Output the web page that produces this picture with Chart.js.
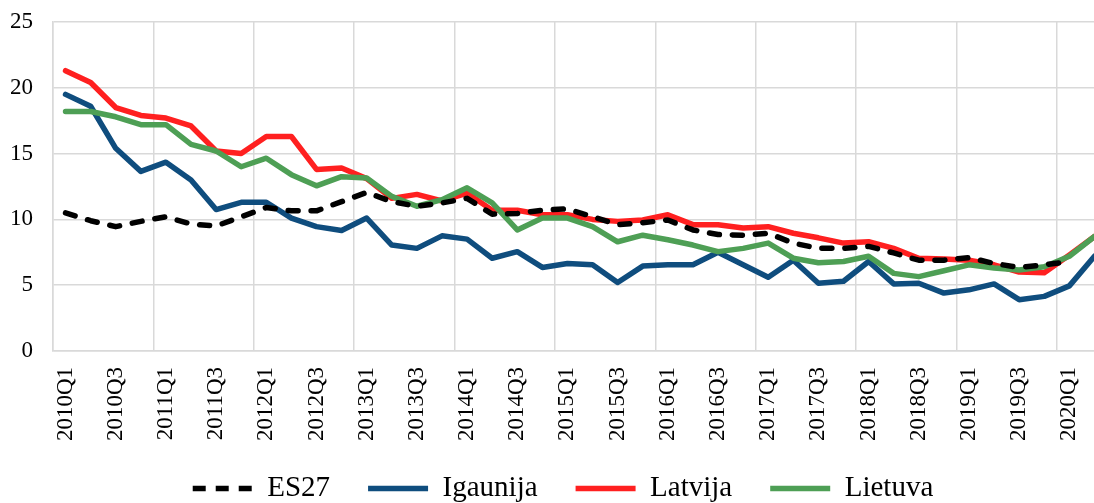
<!DOCTYPE html>
<html>
<head>
<meta charset="utf-8">
<script src="https://cdn.jsdelivr.net/npm/chart.js@4"></script>
<style>
html, body { margin: 0; padding: 0; background: #fff; overflow: hidden; }
#wrap { position: relative; width: 1107px; height: 503px; }
</style>
</head>
<body>
<div id="wrap"><canvas id="chart"></canvas></div>
<script>
// ceturkšņi
var quarters = ['2010Q1', '2010Q2', '2010Q3', '2010Q4', '2011Q1', '2011Q2', '2011Q3', '2011Q4',
    '2012Q1', '2012Q2', '2012Q3', '2012Q4', '2013Q1', '2013Q2', '2013Q3', '2013Q4',
    '2014Q1', '2014Q2', '2014Q3', '2014Q4', '2015Q1', '2015Q2', '2015Q3', '2015Q4',
    '2016Q1', '2016Q2', '2016Q3', '2016Q4', '2017Q1', '2017Q2', '2017Q3', '2017Q4',
    '2018Q1', '2018Q2', '2018Q3', '2018Q4', '2019Q1', '2019Q2', '2019Q3', '2019Q4',
    '2020Q1', '2020Q2'];

var es27 = [10.5, 9.9, 9.45, 9.85, 10.2, 9.65, 9.5, 10.2, 10.9, 10.65, 10.65, 11.35,
    12.05, 11.35, 11.0, 11.25, 11.6, 10.4, 10.45, 10.7, 10.8, 10.2, 9.6, 9.75,
    9.95, 9.2, 8.85, 8.8, 8.95, 8.2, 7.8, 7.8, 7.95, 7.45, 6.9, 6.9,
    7.1, 6.65, 6.35, 6.55, 6.8, null];
var igaunija = [19.5, 18.6, 15.4, 13.65, 14.35, 13.0, 10.75, 11.3, 11.3, 10.1, 9.45, 9.15,
    10.1, 8.05, 7.8, 8.75, 8.5, 7.05, 7.55, 6.35, 6.65, 6.55, 5.2, 6.45,
    6.55, 6.55, 7.5, 6.55, 5.6, 6.9, 5.15, 5.3, 6.8, 5.1, 5.15, 4.4,
    4.65, 5.1, 3.9, 4.15, 4.95, 7.2];
var latvija = [21.3, 20.4, 18.5, 17.9, 17.7, 17.1, 15.2, 15.0, 16.3, 16.3, 13.8, 13.9,
    13.1, 11.6, 11.9, 11.4, 12.0, 10.7, 10.7, 10.35, 10.35, 10.0, 9.85, 9.95,
    10.35, 9.6, 9.6, 9.35, 9.45, 8.95, 8.6, 8.2, 8.3, 7.8, 7.05, 7.0,
    6.9, 6.55, 6.0, 5.95, 7.3, 8.7];
var lietuva = [18.2, 18.2, 17.8, 17.2, 17.2, 15.7, 15.2, 14.0, 14.65, 13.4, 12.55, 13.25,
    13.15, 11.75, 11.0, 11.5, 12.4, 11.25, 9.2, 10.1, 10.1, 9.45, 8.3, 8.8,
    8.45, 8.05, 7.55, 7.8, 8.2, 7.05, 6.7, 6.8, 7.2, 5.9, 5.65, 6.1,
    6.55, 6.3, 6.15, 6.4, 7.2, 8.7];

var yTicks = [0, 5, 10, 15, 20, 25];

var serif = '"Liberation Serif", "Times New Roman", serif';
var gridGray = '#d9d9d9';

// legendu pārbīda uz vietu, kur tā ir oriģinālā
var legendShift = {
    id: 'legendShift',
    afterLayout: function(chart) {
        var lg = chart.legend;
        var dx = 563 - (lg.left + lg.right) / 2;
        lg.left += dx;
        lg.right += dx;
        lg.top = 436;
        lg.bottom = chart.height;
        lg.height = lg.bottom - lg.top;
    }
};

function line(label, data, color, order) {
    return {
        label: label,
        data: data,
        borderColor: color,
        backgroundColor: color,
        borderWidth: 5.5,
        pointRadius: 0,
        pointHoverRadius: 0,
        tension: 0,
        borderJoinStyle: 'round',
        borderCapStyle: 'round',
        fill: false,
        order: order
    };
}

var ds0 = line('ES27', es27, '#000000', 0);
ds0.borderDash = [10, 13];
var ctx = document.getElementById('chart').getContext('2d');
var chart = new Chart(ctx, {
    type: 'line',
    data: {
        labels: quarters,
        datasets: [
            ds0,
            line('Igaunija', igaunija, '#0f4d7e', 3),
            line('Latvija', latvija, '#ff2020', 2),
            line('Lietuva', lietuva, '#4e9f55', 1)
        ]
    },
    options: {
        responsive: true,
        maintainAspectRatio: false,
        animation: false,
        layout: { padding: { top: 22, left: 0, right: 0, bottom: 0 } },
        plugins: {
            tooltip: { enabled: false },
            legend: {
                position: 'bottom',
                maxHeight: 50,
                labels: {
                    font: { family: serif, size: 29 },
                    color: '#000',
                    usePointStyle: true,
                    pointStyle: 'line',
                    pointStyleWidth: 60,
                    boxWidth: 60,
                    padding: 38,
                    sort: function(a, b) { return a.datasetIndex - b.datasetIndex; },
                    generateLabels: function(chart) {
                        var items = Chart.defaults.plugins.legend.labels.generateLabels(chart);
                        items.forEach(function(it) {
                            if (it.datasetIndex === 0) it.lineDash = [13, 10];
                        });
                        return items;
                    }
                }
            }
        },
        scales: {
            x: {
                offset: true,
                grid: {
                    offset: true,
                    drawTicks: false,
                    lineWidth: 1.5,
                    color: function(c) {
                        return (c.index !== undefined && c.index % 4 === 0) ? gridGray : 'rgba(0,0,0,0)';
                    }
                },
                border: { color: gridGray, width: 1.5 },
                ticks: {
                    autoSkip: false,
                    maxRotation: 90,
                    minRotation: 90,
                    padding: 16,
                    color: '#000',
                    font: { family: serif, size: 23 },
                    callback: function(v, i) { return i % 2 === 0 ? quarters[i] : ''; }
                },
                afterFit: function(scale) {
                    scale.paddingLeft = 0;
                    scale.paddingRight = 0;
                    scale.height = scale.chart.height - 351 - scale.chart.legend.height;
                }
            },
            y: {
                min: 0,
                max: 25,
                afterBuildTicks: function(scale) {
                    scale.ticks = yTicks.map(function(v) { return { value: v }; });
                },
                grid: { drawTicks: false, color: gridGray, lineWidth: 1.5 },
                border: { color: gridGray, width: 1.5 },
                ticks: {
                    padding: 20,
                    color: '#000',
                    font: { family: serif, size: 23 }
                },
                afterFit: function(scale) {
                    scale.width = 53;
                    scale.paddingTop = 0;
                    scale.paddingBottom = 0;
                }
            }
        }
    },
    plugins: [legendShift]
});
</script>
</body>
</html>
